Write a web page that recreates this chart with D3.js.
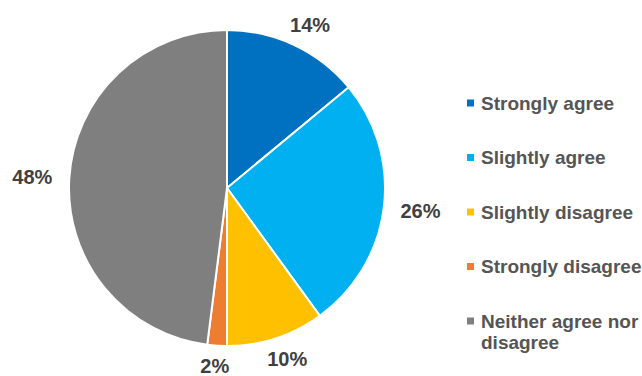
<!DOCTYPE html>
<html>
<head>
<meta charset="utf-8">
<script src="https://cdn.jsdelivr.net/npm/d3@7"></script>
<style>
  html, body { margin: 0; padding: 0; background: #fff; overflow: hidden; }
  svg { display: block; font-family: "Liberation Sans", Arial, sans-serif; }
</style>
</head>
<body>
<svg id="chart" width="642" height="376"></svg>
<script>
// Survey responses, in clockwise order from 12 o'clock
const categories = ["Strongly agree", "Slightly agree", "Slightly disagree", "Strongly disagree", "Neither agree nor disagree"];
const values = [14, 26, 10, 2, 48];
const colors = ["#0070C0", "#00B0F0", "#FFC000", "#ED7D31", "#7F7F7F"];
const legendLines = [["Strongly agree"], ["Slightly agree"], ["Slightly disagree"], ["Strongly disagree"], ["Neither agree nor", "disagree"]];

const width = 642, height = 376;
const svg = d3.select("#chart");
const cx = 227, cy = 188, r = 158;

const pie = d3.pie().sort(null).value(d => d)(values);
const arc = d3.arc().innerRadius(0).outerRadius(r);

const g = svg.append("g").attr("transform", `translate(${cx},${cy})`);

g.selectAll("path.slice")
  .data(pie)
  .join("path")
  .attr("class", "slice")
  .attr("d", arc)
  .attr("fill", (d, i) => colors[i])
  .attr("stroke", "#fff")
  .attr("stroke-width", 2)
  .attr("stroke-linejoin", "round");

// Percent labels sit outside the rim on a slightly flattened ellipse
// so wide labels at the sides clear the pie as much as the top/bottom ones;
// labels are kept inside the canvas vertically.
const labelRx = 195, labelRy = 180, fontPx = 20;
function labelPos(d) {
  const a = (d.startAngle + d.endAngle) / 2;
  const x = labelRx * Math.sin(a);
  let y = -labelRy * Math.cos(a);
  y = Math.min(y, height - cy - fontPx / 2);
  y = Math.max(y, -cy + fontPx / 2);
  return [x, y];
}

g.selectAll("text.pct")
  .data(pie)
  .join("text")
  .attr("class", "pct")
  .attr("transform", d => `translate(${labelPos(d)})`)
  .attr("text-anchor", "middle")
  .attr("dy", "0.35em")
  .attr("font-size", fontPx)
  .attr("font-weight", "bold")
  .attr("fill", "#404040")
  .text(d => d.data + "%");

// Legend
const legend = svg.append("g").attr("transform", "translate(467,103)");
const rowH = 54.5;
const rows = legend.selectAll("g.row")
  .data(categories)
  .join("g")
  .attr("class", "row")
  .attr("transform", (d, i) => `translate(0,${i * rowH})`);

rows.append("rect")
  .attr("x", 0).attr("y", -3.5)
  .attr("width", 7).attr("height", 7)
  .attr("fill", (d, i) => colors[i]);

rows.append("text")
  .attr("x", 14)
  .attr("y", 0)
  .attr("font-size", 19)
  .attr("font-weight", "bold")
  .attr("fill", "#555555")
  .each(function(d, i) {
    d3.select(this).selectAll("tspan")
      .data(legendLines[i])
      .join("tspan")
      .attr("x", 14)
      .attr("dy", (t, j) => j === 0 ? "0.35em" : "1.12em")
      .text(t => t);
  });
</script>
</body>
</html>
